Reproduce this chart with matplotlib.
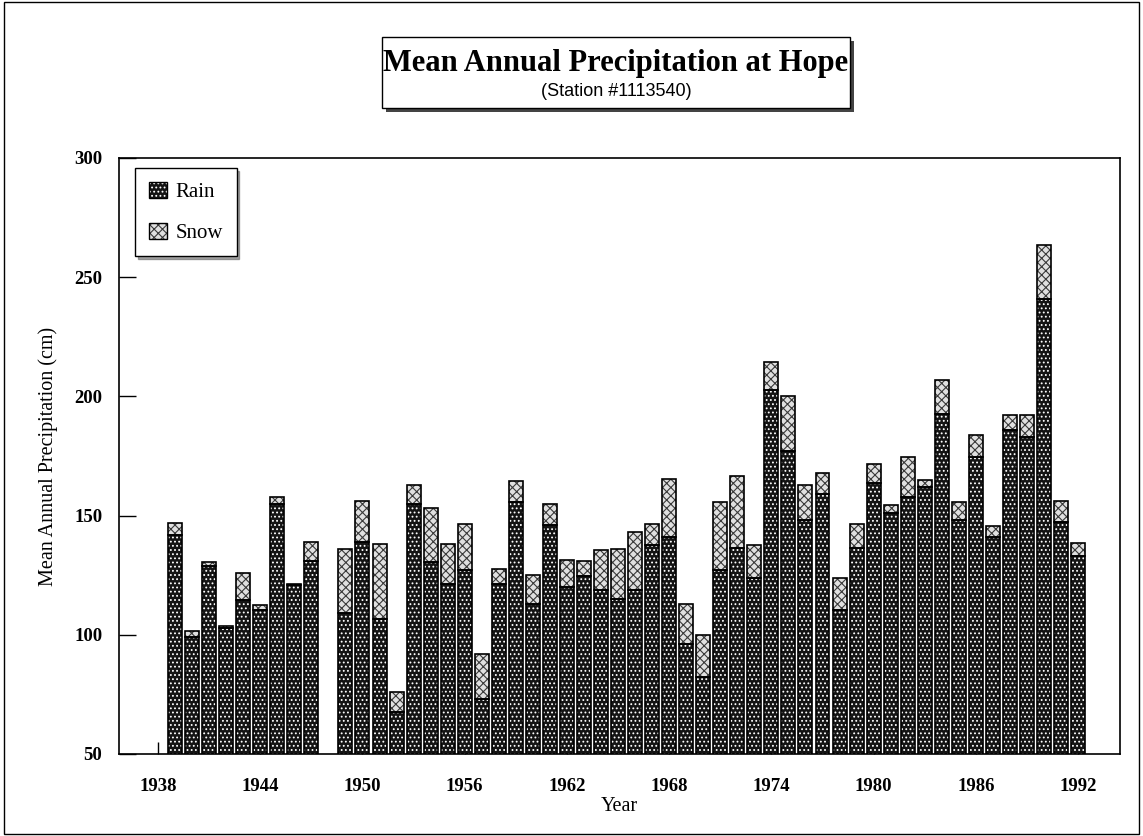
import matplotlib
matplotlib.use('Agg')
import matplotlib.pyplot as plt
from matplotlib.patches import Rectangle, Patch
import numpy as np

plt.rcParams['font.family'] = ['Liberation Serif', 'DejaVu Serif']
plt.rcParams['hatch.linewidth'] = 0.8

years = [1939, 1940, 1941, 1942, 1943, 1944, 1945, 1946, 1947,
         1949, 1950, 1951, 1952, 1953, 1954, 1955, 1956, 1957, 1958, 1959,
         1960, 1961, 1962, 1963, 1964, 1965, 1966, 1967, 1968, 1969,
         1970, 1971, 1972, 1973, 1974, 1975, 1976, 1977, 1978, 1979,
         1980, 1981, 1982, 1983, 1984, 1985, 1986, 1987, 1988, 1989,
         1990, 1991, 1992]
rain = [142, 99, 129, 103, 114.5, 110.5, 155, 121, 131,
        109, 139, 106.5, 67.5, 155, 130.5, 121.5, 127, 73, 121.5, 155.5,
        113, 146, 120, 124.5, 119, 115, 119, 137.5, 141, 96,
        82.5, 127, 136.5, 124, 202.5, 177, 148, 159, 110.5, 136.5,
        163.5, 151, 158, 162, 192.5, 148, 174.5, 141, 186, 183,
        241, 147.5, 133]
snow = [5, 2.5, 1.5, 0.5, 11.5, 2, 3, 0.5, 8,
        27, 17, 31.5, 8.5, 8, 22.5, 16.5, 19.5, 19, 6, 9,
        12, 9, 11.5, 6.5, 16.5, 21, 24, 9, 24.5, 17,
        17.5, 28.5, 30, 13.5, 12, 23, 15, 9, 13.5, 10,
        8, 3.5, 16.5, 3, 14.5, 7.5, 9.5, 4.5, 6, 9,
        22.5, 8.5, 5.5]
xticks = [1938, 1944, 1950, 1956, 1962, 1968, 1974, 1980, 1986, 1992]
yticks = [50, 100, 150, 200, 250, 300]

W, H = 1143, 836
fig = plt.figure(figsize=(W / 100, H / 100), dpi=100)

def fx(x):
    return x / W

def fy(y):
    return 1 - y / H

ax = fig.add_axes([fx(119), fy(754), fx(1120) - fx(119), fy(158) - fy(754)])

yrs = np.array(years)
rn = np.array(rain)
sn = np.array(snow)
w = 0.82
rain_fc = '#141414'
snow_fc = '#e0e0e0'

# rain: dark fill with white stipple
ax.bar(yrs, rn, width=w, color=rain_fc, edgecolor='white', hatch='....', linewidth=0, zorder=2)
ax.bar(yrs, rn, width=w, fill=False, edgecolor='black', linewidth=1.2, zorder=3)
# snow: light checkered
ax.bar(yrs, sn, bottom=rn, width=w, color=snow_fc, edgecolor='#3a3a3a', hatch='xxxx', linewidth=0, zorder=2)
ax.bar(yrs, sn, bottom=rn, width=w, fill=False, edgecolor='black', linewidth=1.2, zorder=3)

ax.set_xlim(1935.71, 1994.46)
ax.set_ylim(50, 300)
ax.set_xticks(xticks)
ax.set_yticks(yticks)
ax.tick_params(axis='both', direction='in', labelsize=13.5, width=1)
ax.tick_params(axis='y', length=12, pad=12)
ax.tick_params(axis='x', length=9, pad=17)
for lab in ax.get_xticklabels() + ax.get_yticklabels():
    lab.set_fontweight('bold')
for s in ax.spines.values():
    s.set_linewidth(1.2)
ax.set_xlabel('Year', fontsize=14.5, labelpad=2)
ax.set_ylabel('Mean Annual Precipitation (cm)', fontsize=14.5, labelpad=12)

h_rain = (Patch(facecolor=rain_fc, edgecolor='white', hatch='....', linewidth=0),
          Patch(fill=False, edgecolor='black', linewidth=1))
h_snow = (Patch(facecolor=snow_fc, edgecolor='#3a3a3a', hatch='xxxx', linewidth=0),
          Patch(fill=False, edgecolor='black', linewidth=1))
leg = ax.legend([h_rain, h_snow], ['Rain', 'Snow'], loc='upper left',
                bbox_to_anchor=(0.016, 0.983), borderaxespad=0, fontsize=15,
                handlelength=0.9, handleheight=0.8, handletextpad=0.4,
                labelspacing=1.0, borderpad=0.65, fancybox=False, shadow=True,
                framealpha=1, edgecolor='black')
leg.get_frame().set_linewidth(1)

# title box with shadow
x0, x1, y0, y1 = 382, 850, 37, 108
fig.add_artist(Rectangle((fx(x0 + 4), fy(y1 + 4)), fx(x1 - x0), fy(y0) - fy(y1),
                         transform=fig.transFigure, facecolor='#444444', edgecolor='none'))
fig.add_artist(Rectangle((fx(x0), fy(y1)), fx(x1 - x0), fy(y0) - fy(y1),
                         transform=fig.transFigure, facecolor='white', edgecolor='black', linewidth=1))
fig.text(fx((x0 + x1) / 2), fy(63), 'Mean Annual Precipitation at Hope',
         ha='center', va='center', fontsize=22, fontweight='bold', family='Liberation Serif')
fig.text(fx((x0 + x1) / 2), fy(91), '(Station #1113540)',
         ha='center', va='center', fontsize=13, family='Liberation Sans')

# outer frame
fig.add_artist(Rectangle((fx(4), fy(834)), fx(1139 - 4), fy(2) - fy(834),
                         transform=fig.transFigure, fill=False, edgecolor='black', linewidth=1))

fig.savefig('out.png', dpi=100)
